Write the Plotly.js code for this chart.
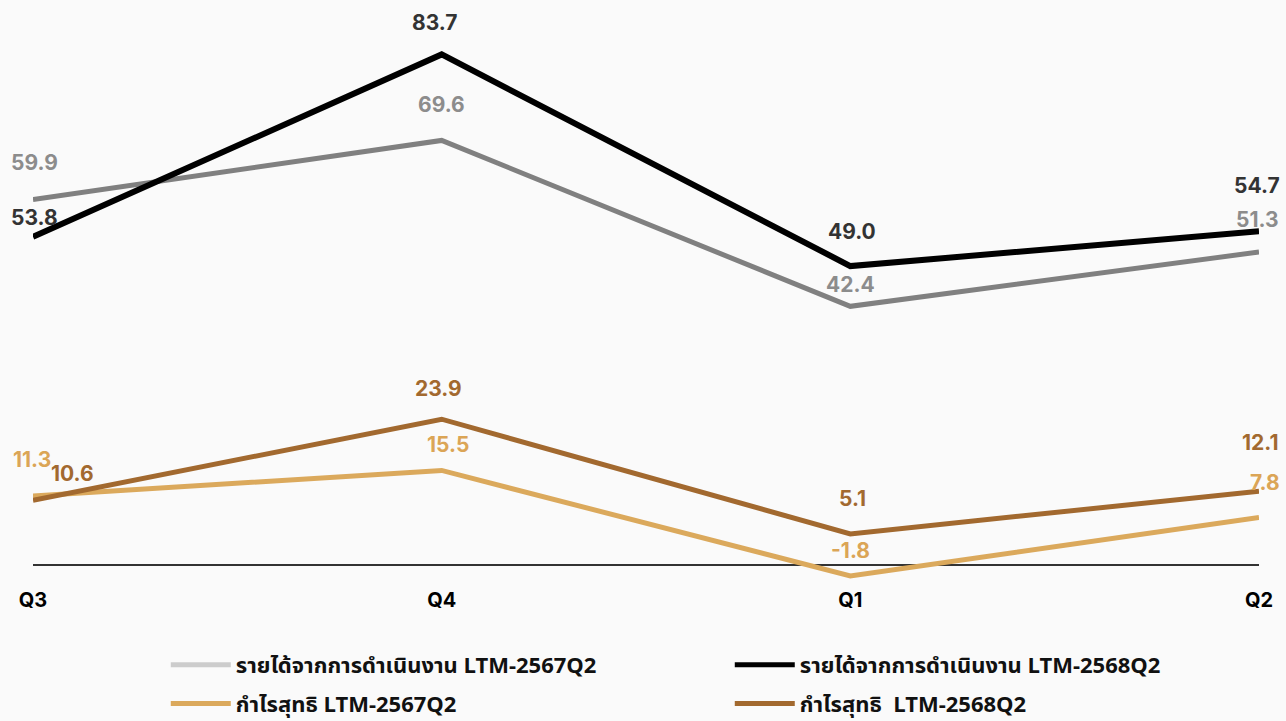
<!DOCTYPE html>
<html>
<head>
<meta charset="utf-8">
<script src="https://cdn.plot.ly/plotly-3.0.1.min.js"></script>
<style>
html,body{margin:0;padding:0;background:#fafafa;}
#chart{width:1286px;height:721px;}
</style>
</head>
<body>
<div id="chart"></div>
<script>
// ---- data ----
const quarters = ['Q3', 'Q4', 'Q1', 'Q2'];
const revenue2567 = [59.9, 69.6, 42.4, 51.3];
const revenue2568 = [53.8, 83.7, 49.0, 54.7];
const profit2567 = [11.3, 15.5, -1.8, 7.8];
const profit2568 = [10.6, 23.9, 5.1, 12.1];
const seriesNames = [
  'รายได้จากการดำเนินงาน LTM-2567Q2',
  'รายได้จากการดำเนินงาน LTM-2568Q2',
  'กำไรสุทธิ LTM-2567Q2',
  'กำไรสุทธิ  LTM-2568Q2'
];

// ---- style ----
const numFont = 'Inter, "Open Sans", sans-serif';
const thaiFont = '"Noto Sans Thai", "Noto Sans", "DejaVu Sans", sans-serif';
const series = [
  {y: revenue2567, line: '#808080', legendColor: '#cccccc', text: '#8c8c8c', width: 5,
   dx: [1, 0, 0, -2], dy: [37, 36, 22, 33], legend: 'legend'},
  {y: revenue2568, line: '#000000', legendColor: '#000000', text: '#333333', width: 6,
   dx: [1, -7, 2, -2], dy: [19, 32, 35, 46], legend: 'legend'},
  {y: profit2567, line: '#dba95c', legendColor: '#dba95c', text: '#dba556', width: 5,
   dx: [-1, 6, 0, 6], dy: [37, 26, 25, 35], legend: 'legend2'},
  {y: profit2568, line: '#a2692f', legendColor: '#a2692f', text: '#a2692f', width: 5,
   dx: [39, -3, 2, 1], dy: [27, 31, 35, 49], legend: 'legend2'}
];

const traces = [];
const annotations = [];
series.forEach((s, i) => {
  traces.push({
    x: quarters, y: s.y, type: 'scatter', mode: 'lines',
    line: {color: s.line, width: s.width}, showlegend: false, hoverinfo: 'skip'
  });
  s.y.forEach((v, j) => {
    annotations.push({
      x: quarters[j], y: v, xref: 'x', yref: 'y', text: v.toFixed(1),
      showarrow: false, xanchor: 'center', yanchor: 'middle',
      xshift: s.dx[j], yshift: s.dy[j],
      font: {family: numFont, size: 21, color: s.text, weight: 700}
    });
  });
});
// legend entries
series.forEach((s, i) => {
  traces.push({
    x: [null], y: [null], type: 'scatter', mode: 'lines', name: seriesNames[i],
    line: {color: s.legendColor, width: 5}, showlegend: true, legend: s.legend
  });
});

const legendBase = {
  orientation: 'h', xanchor: 'left', yanchor: 'middle',
  bgcolor: 'rgba(0,0,0,0)', itemwidth: 60,
  entrywidth: 489, entrywidthmode: 'pixels',
  font: {family: thaiFont, size: 22, color: '#111', weight: 700},
  itemclick: false, itemdoubleclick: false
};

const layout = {
  width: 1286, height: 721,
  margin: {l: 33, r: 27, t: 10, b: 141, autoexpand: false},
  paper_bgcolor: '#fafafa', plot_bgcolor: '#fafafa',
  showlegend: true,
  xaxis: {
    type: 'category', range: [0, 3], showgrid: false, zeroline: false,
    showline: false, ticks: '', ticklabelstandoff: 6, automargin: false,
    tickfont: {family: numFont, size: 20, color: '#000', weight: 700},
    fixedrange: true
  },
  yaxis: {
    range: [-2.46, 90.98], showgrid: false, showticklabels: false,
    zeroline: true, zerolinecolor: '#333333', zerolinewidth: 2,
    ticks: '', fixedrange: true, automargin: false
  },
  legend: Object.assign({}, legendBase, {x: 0.1083, y: -0.149}),
  legend2: Object.assign({}, legendBase, {x: 0.1083, y: -0.217}),
  annotations: annotations
};

Plotly.newPlot('chart', traces, layout, {displayModeBar: false, staticPlot: true});
</script>
</body>
</html>
